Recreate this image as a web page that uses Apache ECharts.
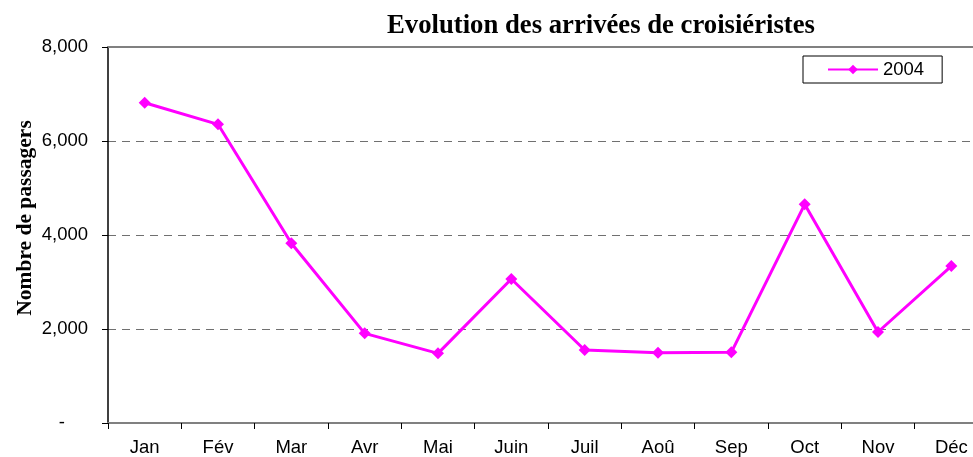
<!DOCTYPE html>
<html>
<head>
<meta charset="utf-8">
<script src="https://cdn.jsdelivr.net/npm/echarts@6/dist/echarts.min.js"></script>
<style>html,body{margin:0;padding:0;background:#fff;}#c{width:973px;height:457px;}</style>
</head>
<body>
<div id="c"></div>
<script>
const categories = ['Jan','Fév','Mar','Avr','Mai','Juin','Juil','Aoû','Sep','Oct','Nov','Déc'];
const values2004 = [6815, 6355, 3823, 1908, 1482, 3064, 1553, 1496, 1504, 4653, 1936, 3340];
const seriesName = '2004';
const titleText = 'Evolution des arrivées de croisiéristes';
const yAxisTitle = 'Nombre de passagers';

const chart = echarts.init(document.getElementById('c'), null, {renderer: 'canvas'});
chart.setOption({
  animation: false,
  backgroundColor: '#fff',
  title: {
    text: titleText,
    left: 596, top: 8, textAlign: 'center',
    textStyle: {fontFamily: 'Liberation Serif', fontWeight: 'bold', fontSize: 26.7, color: '#000'}
  },
  legend: {
    data: [seriesName],
    left: 803, top: 56,
    padding: [4, 18, 4, 24],
    itemWidth: 50, itemHeight: 12, itemGap: 4,
    borderColor: '#000', borderWidth: 1, borderRadius: 0,
    textStyle: {fontFamily: 'Liberation Sans', fontSize: 18.5, color: '#000'}
  },
  grid: {left: 108, width: 880, top: 47, bottom: 34, containLabel: false, outerBoundsMode: 'none'},
  xAxis: [{
    type: 'category', data: categories, boundaryGap: true,
    axisLine: {lineStyle: {color: '#808080', width: 2}},
    axisTick: {show: true, length: 6, lineStyle: {color: '#000', width: 1}},
    axisLabel: {fontFamily: 'Liberation Sans', fontSize: 18.5, color: '#000', margin: 15}
  }, {
    type: 'category', data: categories, position: 'top',
    axisLine: {lineStyle: {color: '#808080', width: 2}},
    axisTick: {show: false}, axisLabel: {show: false}
  }],
  yAxis: {
    type: 'value', min: 0, max: 8000, interval: 2000,
    name: yAxisTitle, nameLocation: 'middle', nameGap: 72, nameRotate: 90, nameMoveOverlap: false,
    nameTextStyle: {fontFamily: 'Liberation Serif', fontWeight: 'bold', fontSize: 21.5, color: '#000', padding: [0, 0, 0, 34]},
    axisLine: {show: true, lineStyle: {color: '#000', width: 1.5}},
    axisTick: {show: true, length: 6, lineStyle: {color: '#000'}},
    splitLine: {show: true, lineStyle: {color: '#707070', type: [8, 6], width: 1}},
    axisLabel: {
      fontFamily: 'Liberation Sans', fontSize: 18.5, color: '#000', margin: 20,
      formatter: v => v === 0 ? '{d|-}' : v.toLocaleString('en-US'),
      rich: {d: {fontFamily: 'Liberation Sans', fontSize: 18.5, color: '#000', padding: [0, 23, 0, 0]}}
    }
  },
  series: [{
    name: seriesName, type: 'line', data: values2004,
    symbol: 'diamond', symbolSize: 12,
    lineStyle: {color: '#FF00FF', width: 3},
    itemStyle: {color: '#FF00FF'}
  }]
});
</script>
</body>
</html>
